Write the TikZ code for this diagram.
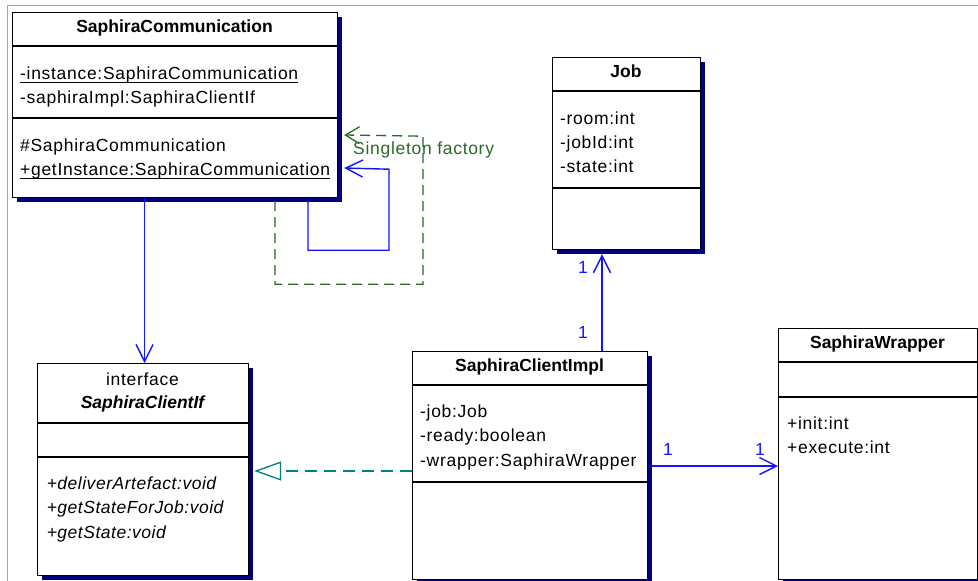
\documentclass[tikz,border=0pt]{standalone}
\usepackage{fontspec}
\setmainfont{Liberation Sans}[UprightFeatures={LetterSpace=4}, ItalicFeatures={LetterSpace=3}]
\usetikzlibrary{arrows.meta,shadows,calc}
\definecolor{assocblue}{RGB}{20,20,255}
\definecolor{singletongreen}{RGB}{40,105,40}
\definecolor{realteal}{RGB}{0,128,128}
\definecolor{shadownavy}{RGB}{0,0,128}
\definecolor{framegray}{RGB}{165,165,165}

\begin{document}
\begin{tikzpicture}[x=1pt,y=-1pt,
  classbox/.style={draw=black, fill=white, line width=1.2pt, inner sep=0pt,
    anchor=north west,
    drop shadow={shadow xshift=4pt, shadow yshift=-4pt, fill=shadownavy, opacity=1}},
  txt/.style={inner sep=0pt, anchor=base west, font=\fontsize{17.5}{20}\selectfont},
  ttl/.style={inner sep=0pt, anchor=base, font=\fontsize{17.5}{20}\selectfont\bfseries},
  divider/.style={line width=1.2pt},
  uline/.style={line width=1pt},
  assoc/.style={draw=assocblue, line width=1.4pt, -{Straight Barb[length=17pt,width=17pt]}},
  mult/.style={txt, text=assocblue},
  singleton/.style={draw=singletongreen, line width=1.3pt, dash pattern=on 10pt off 6pt,
    -{Straight Barb[length=14pt,width=17pt]}},
  realize/.style={draw=realteal, line width=1.3pt, dash pattern=on 12pt off 7pt,
    -{Triangle[open,length=27pt,width=19pt,fill=white]}},
]
\useasboundingbox (0,0) rectangle (978,581);

% frame edges
\draw[framegray, line width=1pt] (7,581) -- (7,5) -- (978,5);

% ---- SaphiraCommunication ----
\node[classbox, minimum width=325pt, minimum height=185pt] (comm) at (12,12) {};
\draw[divider] ($(comm.north west)+(0,34)$) -- ($(comm.north east)+(0,34)$);
\draw[divider] ($(comm.north west)+(0,106)$) -- ($(comm.north east)+(0,106)$);
\node[ttl] (commT) at (174.5,32) {SaphiraCommunication};
\node[txt] (commA1) at (20,79) {-instance:SaphiraCommunication};
\node[txt] (commA2) at (20,103) {-saphiraImpl:SaphiraClientIf};
\node[txt] (commM1) at (20,151) {\#SaphiraCommunication};
\node[txt] (commM2) at (20,175) {+getInstance:SaphiraCommunication};
\draw[uline] ([yshift=-3pt]commA1.base west) -- ([yshift=-3pt]commA1.base east);
\draw[uline] ([yshift=-3pt]commM2.base west) -- ([yshift=-3pt]commM2.base east);

% ---- SaphiraClientIf ----
\node[classbox, minimum width=211pt, minimum height=212pt] (iface) at (37,363) {};
\draw[divider] ($(iface.north west)+(0,60)$) -- ($(iface.north east)+(0,60)$);
\draw[divider] ($(iface.north west)+(0,94)$) -- ($(iface.north east)+(0,94)$);
\node[ttl, font=\fontsize{17.5}{20}\selectfont] (ifaceS) at (142.5,385) {interface};
\node[ttl, font=\fontsize{17.5}{20}\selectfont\bfseries\itshape] (ifaceT) at (142.5,408) {SaphiraClientIf};
\node[txt] (ifaceM1) at (47,489) {+\textit{deliverArtefact:void}};
\node[txt] (ifaceM2) at (47,513) {+\textit{getStateForJob:void}};
\node[txt] (ifaceM3) at (47,538) {+\textit{getState:void}};

% ---- SaphiraClientImpl ----
\node[classbox, minimum width=235pt, minimum height=228pt] (impl) at (412,351) {};
\draw[divider] ($(impl.north west)+(0,34)$) -- ($(impl.north east)+(0,34)$);
\draw[divider] ($(impl.north west)+(0,131)$) -- ($(impl.north east)+(0,131)$);
\node[ttl] (implT) at (529.5,371) {SaphiraClientImpl};
\node[txt] (implA1) at (420,417) {-job:Job};
\node[txt] (implA2) at (420,441) {-ready:boolean};
\node[txt] (implA3) at (420,466) {-wrapper:SaphiraWrapper};

% ---- Job ----
\node[classbox, minimum width=148pt, minimum height=192pt] (job) at (552,57) {};
\draw[divider] ($(job.north west)+(0,34)$) -- ($(job.north east)+(0,34)$);
\draw[divider] ($(job.north west)+(0,131)$) -- ($(job.north east)+(0,131)$);
\node[ttl] (jobT) at (626,77) {Job};
\node[txt] (jobA1) at (560,124) {-room:int};
\node[txt] (jobA2) at (560,148) {-jobId:int};
\node[txt] (jobA3) at (560,172) {-state:int};

% ---- SaphiraWrapper ----
\node[classbox, minimum width=199pt, minimum height=251pt] (wrap) at (778,328) {};
\draw[divider] ($(wrap.north west)+(0,34)$) -- ($(wrap.north east)+(0,34)$);
\draw[divider] ($(wrap.north west)+(0,69)$) -- ($(wrap.north east)+(0,69)$);
\node[ttl] (wrapT) at (877.5,348) {SaphiraWrapper};
\node[txt] (wrapM1) at (787,429) {+init:int};
\node[txt] (wrapM2) at (787,453) {+execute:int};

% ---- connectors ----
% SaphiraCommunication uses SaphiraClientIf
\draw[assoc] ([xshift=1.5pt]iface.north |- comm.south) -- ([xshift=1.5pt]iface.north);

% self association of SaphiraCommunication
\coordinate (selfEnd) at ($(comm.north east)+(6,156)$);
\draw[assoc] ([xshift=296pt,yshift=-3pt]comm.south west) -- ++(0,49) -- ++(81,0) -- ++(0,-81) -- (selfEnd);

% singleton factory dependency
\coordinate (singEnd) at ($(comm.north east)+(6,123)$);
\draw[singleton] ([xshift=263pt,yshift=-3pt]comm.south west) -- ++(0,83) -- ++(148,0) -- ++(0,-148) -- (singEnd);
\node[txt, text=singletongreen] (singLbl) at (353,154) {Singleton factory};

% realization SaphiraClientImpl -> SaphiraClientIf
\draw[realize] ($(impl.north west)+(0,120)$) -- ($(iface.north east)+(5,108)$);

% SaphiraClientImpl -> Job
\draw[assoc] ($(impl.north west)+(190,0)$) -- ($(job.south west)+(50,4)$);
\node[mult] (mJob) at (578,273) {1};
\node[mult] (mImplJ) at (578,338) {1};

% SaphiraClientImpl -> SaphiraWrapper
\draw[assoc] ($(impl.north east)+(4,115)$) -- ($(wrap.north west)+(0,138)$);
\node[mult] (mImplW) at (663,455) {1};
\node[mult] (mWrap) at (755,455) {1};
\end{tikzpicture}
\end{document}
